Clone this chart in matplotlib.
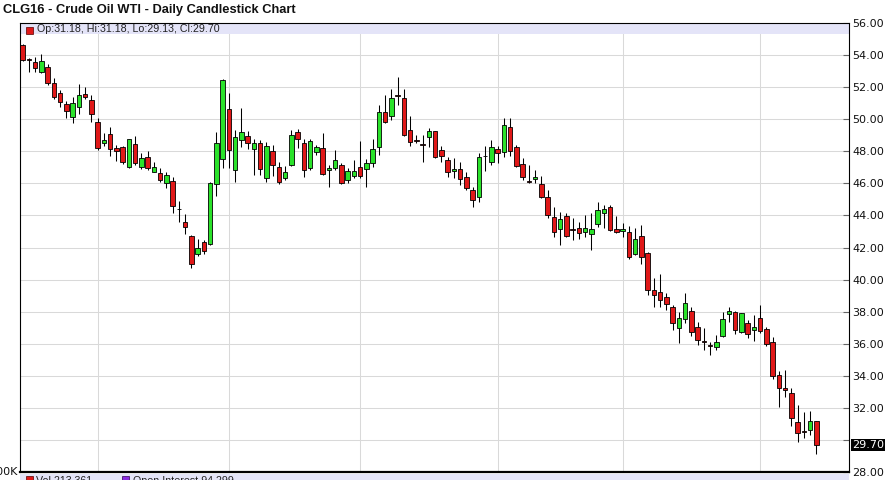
import numpy as np
import matplotlib
matplotlib.use('Agg')
import matplotlib.pyplot as plt
from matplotlib.patches import Rectangle
import matplotlib.transforms as mtransforms

# ──────────────────────────────────────────────────────────────
# Datos: velas diarias CLG16 (open, high, low, close)
# ──────────────────────────────────────────────────────────────
opens = [
    54.60, 53.70, 53.57, 52.91, 53.26, 52.22, 51.60, 50.92, 50.14, 50.73,
    51.56, 51.18, 49.79, 48.49, 49.05, 48.21, 48.24, 46.99, 48.42, 46.99,
    47.61, 46.72, 46.62, 46.00, 46.16, 44.37, 43.60, 42.71, 41.60, 42.32,
    42.21, 45.93, 47.51, 50.60, 46.82, 48.69, 48.96, 48.11, 48.52, 46.31,
    48.00, 47.03, 46.31, 47.12, 49.17, 48.49, 46.93, 47.96, 48.17, 46.82,
    46.93, 47.13, 46.20, 46.45, 46.99, 46.87, 47.24, 48.24, 50.46, 50.19,
    51.45, 51.29, 49.31, 48.67, 48.43, 48.86, 49.25, 48.07, 47.45, 46.76,
    46.88, 46.41, 45.58, 45.12, 47.70, 47.32, 48.11, 47.96, 49.48, 48.27,
    47.20, 46.10, 46.26, 45.93, 45.16, 43.91, 43.13, 43.96, 43.14, 43.19,
    42.98, 42.82, 43.44, 44.16, 44.50, 43.13, 43.02, 42.94, 41.59, 42.73,
    41.63, 39.35, 39.20, 38.89, 38.27, 36.96, 37.52, 38.06, 37.02, 36.14,
    35.89, 35.78, 36.48, 37.85, 37.99, 36.71, 37.31, 36.85, 37.58, 36.90,
    36.13, 34.09, 33.28, 32.91, 31.14, 30.53, 30.62, 31.18,
]
highs = [
    54.70, 53.80, 53.85, 54.03, 53.43, 52.54, 51.80, 51.12, 51.35, 52.18,
    52.01, 51.49, 50.04, 49.11, 49.48, 48.38, 48.32, 48.77, 48.96, 47.86,
    48.00, 47.30, 46.93, 46.72, 46.41, 44.87, 44.06, 42.75, 42.55, 42.46,
    46.10, 49.21, 52.50, 51.60, 49.31, 50.67, 49.25, 48.73, 48.69, 48.59,
    48.38, 47.34, 47.07, 49.31, 49.38, 48.73, 48.75, 48.38, 49.15, 47.13,
    48.07, 47.24, 46.93, 47.45, 48.63, 47.49, 48.73, 50.87, 51.49, 51.85,
    52.64, 51.86, 50.19, 49.00, 49.00, 49.42, 49.28, 48.32, 47.61, 47.55,
    47.30, 46.72, 45.74, 47.86, 48.32, 48.69, 48.32, 50.04, 50.04, 48.38,
    47.55, 47.13, 46.82, 46.45, 45.58, 44.54, 44.22, 44.12, 43.81, 43.60,
    44.02, 44.12, 44.85, 44.64, 44.64, 43.96, 43.50, 43.33, 43.19, 43.39,
    41.70, 40.07, 40.34, 39.14, 38.41, 37.99, 39.18, 38.31, 37.37, 36.96,
    36.13, 36.54, 37.99, 38.31, 38.06, 37.93, 37.48, 37.79, 38.41, 37.02,
    36.40, 34.32, 34.36, 33.22, 32.22, 31.76, 31.81, 31.18,
]
lows = [
    53.60, 52.90, 52.90, 52.85, 52.10, 51.25, 50.77, 50.05, 49.77, 50.31,
    51.23, 49.83, 48.07, 48.32, 47.69, 47.40, 47.18, 46.93, 47.13, 46.87,
    46.82, 46.72, 46.10, 45.68, 44.12, 43.58, 42.83, 40.70, 41.44, 41.60,
    42.18, 45.22, 46.93, 46.93, 46.09, 48.24, 48.11, 46.51, 46.51, 46.09,
    46.45, 45.95, 46.20, 47.07, 48.17, 46.41, 46.82, 47.76, 46.51, 45.78,
    46.82, 45.95, 46.03, 46.31, 46.31, 45.74, 46.99, 47.76, 49.73, 49.94,
    50.90, 48.92, 48.32, 48.52, 47.34, 48.24, 47.60, 47.34, 46.41, 46.31,
    45.89, 45.58, 44.54, 44.85, 46.78, 47.13, 47.28, 47.65, 47.69, 47.03,
    46.20, 46.00, 46.00, 45.06, 43.85, 42.63, 42.15, 42.63, 42.46, 42.50,
    42.67, 41.84, 43.25, 43.19, 43.04, 42.92, 42.67, 41.26, 41.53, 41.00,
    39.03, 38.31, 38.31, 38.10, 36.85, 36.06, 37.27, 36.50, 35.92, 35.61,
    35.30, 35.61, 36.44, 37.37, 36.59, 36.65, 36.34, 36.19, 36.69, 35.86,
    33.78, 32.07, 32.66, 30.87, 29.89, 30.11, 30.31, 29.13,
]
closes = [
    53.67, 53.68, 53.16, 53.63, 52.22, 51.39, 51.08, 50.52, 50.98, 51.50,
    51.39, 50.29, 48.21, 48.69, 48.11, 48.00, 47.30, 48.73, 47.24, 47.55,
    46.93, 46.99, 46.20, 46.51, 44.58, 44.37, 43.25, 41.00, 42.00, 41.78,
    46.02, 48.49, 52.43, 48.07, 48.90, 49.17, 48.49, 48.52, 46.87, 48.34,
    47.13, 46.09, 46.72, 49.00, 48.73, 46.82, 48.63, 48.24, 46.55, 46.93,
    47.45, 46.03, 46.76, 46.76, 46.45, 47.24, 48.11, 50.46, 49.79, 51.29,
    51.43, 49.00, 48.59, 48.63, 48.41, 49.25, 47.65, 47.69, 46.68, 46.88,
    46.24, 45.68, 44.95, 47.61, 47.68, 48.27, 47.86, 49.63, 48.00, 47.09,
    46.37, 46.08, 46.37, 45.12, 44.02, 42.98, 43.75, 42.73, 43.12, 42.88,
    43.19, 43.13, 44.33, 44.37, 43.08, 42.98, 43.15, 41.38, 42.52, 41.38,
    39.35, 39.03, 38.72, 38.47, 37.27, 37.58, 38.52, 36.75, 36.27, 36.12,
    35.87, 36.13, 37.52, 38.06, 36.85, 37.89, 36.60, 37.02, 36.79, 35.96,
    33.99, 33.28, 33.12, 31.41, 30.42, 30.51, 31.18, 29.70,
]

# índices de velas donde empieza cada mes (líneas verticales)
month_starts = [12, 33, 54, 76, 96, 118]
price_ticks = np.arange(28, 57, 2)

title = 'CLG16 - Crude Oil WTI - Daily Candlestick Chart'
last_vol = '213,361'
last_oi = '94,299'

# ──────────────────────────────────────────────────────────────
# Estilo
# ──────────────────────────────────────────────────────────────
RED = '#e01818'
GREEN = '#2ae22a'
LAVENDER = '#e4e4f8'
GRID = '#d9d9d9'
W, H = 887, 480


def fx(px):
    return px / W


def fy(py):
    return 1 - py / H


o = np.array(opens)
h = np.array(highs)
l = np.array(lows)
c = np.array(closes)
x = np.arange(len(o))

fig = plt.figure(figsize=(W / 100, H / 100), dpi=100)
ax = fig.add_axes([fx(20), fy(472.3), (849 - 20) / W, (472.3 - 22.7) / H])

# velas
ax.vlines(x, l, h, color='black', lw=0.75, zorder=3)
body_col = np.where(c >= o, GREEN, RED)
body_h = np.maximum(np.abs(c - o), 0.04)
ax.bar(x, body_h, bottom=np.minimum(o, c), width=0.72, color=body_col,
       edgecolor='black', linewidth=0.6, zorder=4)

ax.set_xlim(-0.43, 132.2)
ax.set_ylim(28, 56)

# grilla
ax.set_xticks(month_starts)
ax.set_yticks(price_ticks)
ax.set_yticklabels(['' if v == 30 else f'{v:.2f}' for v in price_ticks])
ax.grid(True, color=GRID, lw=0.75)
ax.set_axisbelow(True)
ax.yaxis.tick_right()
ax.tick_params(axis='y', direction='in', length=4, width=0.8, color='#666666',
               pad=2.5, labelsize=8, labelcolor='#111111')
ax.tick_params(axis='x', length=0, labelbottom=False)

for s in ['left', 'top', 'right']:
    ax.spines[s].set_linewidth(0.8)
    ax.spines[s].set_color('black')
ax.spines['bottom'].set_linewidth(1.6)

# franja de leyenda superior
ax.axhspan(55.28, 56, color=LAVENDER, lw=0, zorder=1.5)
fig.patches.append(Rectangle((fx(26), fy(33.5)), 7 / W, 7 / H, transform=fig.transFigure,
                             fc=RED, ec='#550000', lw=0.5, zorder=5))
fig.text(fx(37), fy(29.5),
         f'Op:{opens[-1]:.2f}, Hi:{highs[-1]:.2f}, Lo:{lows[-1]:.2f}, Cl:{closes[-1]:.2f}',
         family='Liberation Sans', fontsize=7.7, color='#222222', va='center', ha='left')

# etiqueta del último precio
trans = mtransforms.blended_transform_factory(ax.transAxes, ax.transData)
ax.text(1.0, closes[-1], f'{closes[-1]:.2f}', transform=trans, fontsize=8,
        color='white', va='center', ha='left', clip_on=False,
        bbox=dict(boxstyle='square,pad=0.12', fc='black', ec='none'),
        )
ax.texts[-1].set_x(1.0 + 3 / 829)

# título
fig.text(fx(3), fy(9.5), title, family='Liberation Sans', fontweight='bold',
         fontsize=9.3, color='#111111', va='center', ha='left')

# panel de volumen (cortado abajo)
fig.patches.append(Rectangle((fx(20), 0), (849 - 20) / W, (480 - 473.5) / H,
                             transform=fig.transFigure, fc=LAVENDER, ec='none', zorder=0))
fig.patches.append(Rectangle((fx(26), fy(483)), 7 / W, 7 / H, transform=fig.transFigure,
                             fc=RED, ec='#550000', lw=0.5, zorder=5))
fig.text(fx(36), fy(475.8), f'Vol {last_vol}', family='Liberation Sans',
         fontsize=7.7, color='#222222', va='top', ha='left')
fig.patches.append(Rectangle((fx(122), fy(483)), 7 / W, 7 / H, transform=fig.transFigure,
                             fc='#8a2be2', ec='#330055', lw=0.5, zorder=5))
fig.text(fx(133), fy(475.8), f'Open Interest {last_oi}', family='Liberation Sans',
         fontsize=7.7, color='#222222', va='top', ha='left')
fig.text(fx(17.5), fy(472), '200K', fontsize=8, color='#111111',
         va='center', ha='right')

fig.savefig('out.png', dpi=100)
